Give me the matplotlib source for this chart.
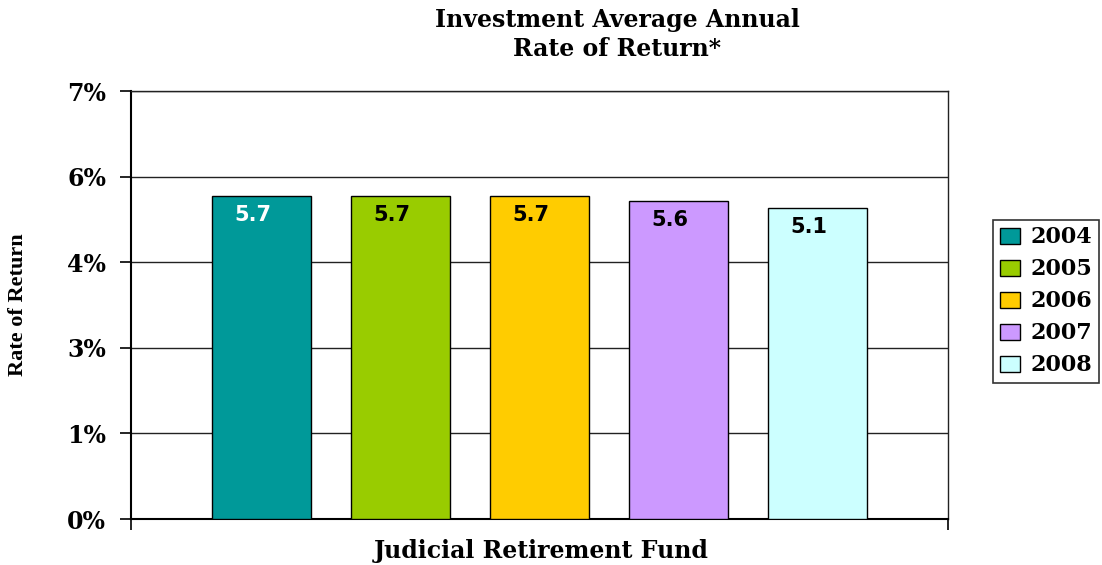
"""
Investment Average Annual Rate of Return - Judicial Retirement Fund
"""
import numpy as np
from matplotlib import pyplot as plt

years = ['2004', '2005', '2006', '2007', '2008']
# bar heights as drawn in the picture, and the labels printed on them
heights = [5.28, 5.28, 5.28, 5.20, 5.09]
labels = ['5.7', '5.7', '5.7', '5.6', '5.1']
colors = ['#009999', '#99CC00', '#FFCC00', '#CC99FF', '#CCFFFF']
label_colors = ['white', 'black', 'black', 'black', 'black']
yticks = [0, 1.4, 2.8, 4.2, 5.6, 7.0]

serif = 'DejaVu Serif'

fig = plt.figure(figsize=(11.02, 5.65), dpi=100)
ax = fig.add_axes([0.1189, 0.0814, 0.7414, 0.7575])

x = np.arange(len(years))
for i in range(len(years)):
    ax.bar(x[i], heights[i], width=0.712, color=colors[i], edgecolor='black',
           linewidth=1, label=years[i], zorder=3)
    ax.text(x[i] - 0.06, heights[i] - 0.31, labels[i], ha='center', va='center',
            fontsize=15, fontweight='bold', family='DejaVu Sans',
            color=label_colors[i], zorder=4)

ax.set_xlim(-0.939, 4.939)
ax.set_ylim(0, 7)
ax.set_yticks(yticks)
ax.set_yticklabels(['{:.0f}%'.format(v) for v in yticks], fontsize=17,
                   fontweight='bold', family=serif)
ax.set_xticks([-0.939, 4.939])
ax.set_xticklabels([])
ax.tick_params(axis='y', direction='out', length=8, width=1.2, color='black', pad=10)
ax.tick_params(axis='x', direction='out', length=8, width=1.2, color='black')

ax.grid(axis='y', color='#222222', linewidth=1, zorder=0)
for side in ['left', 'bottom']:
    ax.spines[side].set_linewidth(1.5)
    ax.spines[side].set_color('black')
for side in ['top', 'right']:
    ax.spines[side].set_linewidth(1)
    ax.spines[side].set_color('#222222')

fig.text(0.56, 0.985, 'Investment Average Annual\nRate of Return*', ha='center', va='top',
         fontsize=17, fontweight='bold', family=serif, linespacing=1.25)
fig.text(0.491, 0.025, 'Judicial Retirement Fund', ha='center', va='center',
         fontsize=17, fontweight='bold', family=serif)
fig.text(0.016, 0.46, 'Rate of Return', ha='center', va='center', rotation=90,
         fontsize=16, fontweight='bold', family='Liberation Serif')

leg = ax.legend(loc='upper left', bbox_to_anchor=(0.901, 0.611),
                bbox_transform=fig.transFigure, frameon=True, fancybox=False,
                edgecolor='black', handlelength=0.9, handleheight=0.75,
                borderpad=0.3, labelspacing=0.45, handletextpad=0.5,
                borderaxespad=0,
                prop={'family': serif, 'weight': 'bold', 'size': 16})
leg.get_frame().set_linewidth(1.2)

plt.savefig('out.png', dpi=100)
